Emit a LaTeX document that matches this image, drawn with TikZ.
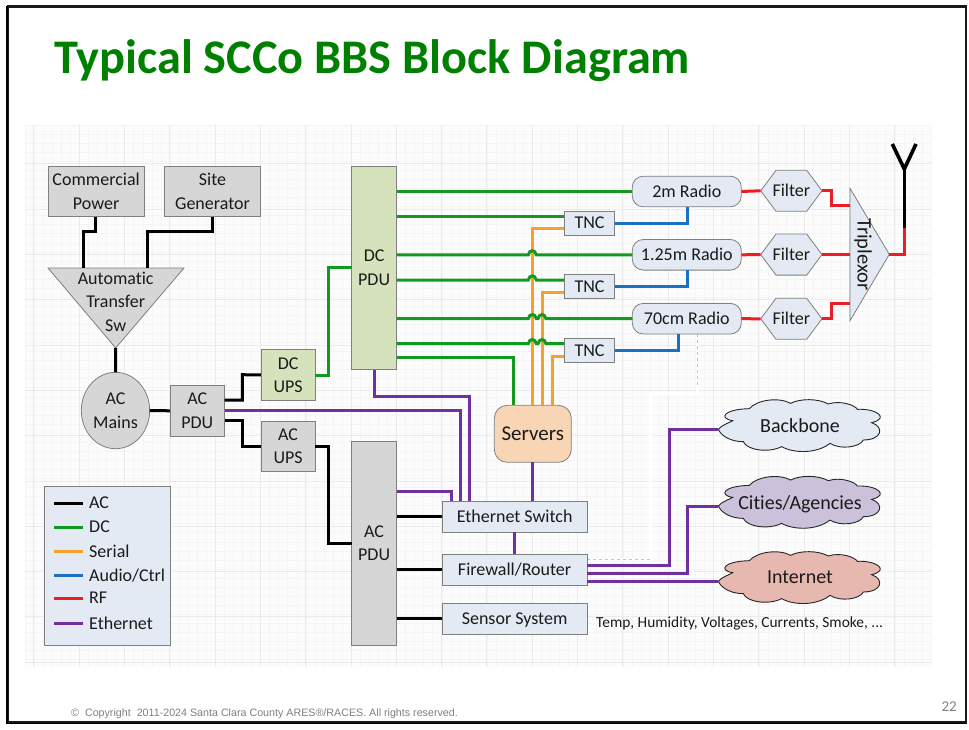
\documentclass[tikz,border=0pt]{standalone}
\usepackage{fontspec}
\setmainfont{Carlito}[Ligatures=NoCommon]
\newfontfamily\footfont{Liberation Sans}
\usetikzlibrary{shapes.geometric,calc}
\definecolor{acc}{HTML}{000000}
\definecolor{dcc}{HTML}{12991F}
\definecolor{serc}{HTML}{F7A12A}
\definecolor{audc}{HTML}{1B6FC4}
\definecolor{rfc}{HTML}{EE1C25}
\definecolor{ethc}{HTML}{7030A0}
\definecolor{titlec}{HTML}{008000}
\definecolor{bordc}{HTML}{7F7F7F}
\definecolor{bluef}{HTML}{E4EAF4}
\definecolor{greyf}{HTML}{D6D6D6}
\definecolor{greenf}{HTML}{D6E2BC}
\definecolor{peachf}{HTML}{F8D5B4}
\definecolor{lilacf}{HTML}{CCC1DA}
\definecolor{pinkf}{HTML}{E6B8B0}
\definecolor{txtc}{HTML}{1A1A1A}
\newcommand{\lbl}[1]{\fontsize{#1}{23.5}\selectfont}
\newcommand{\hopat}[2]{-- (#1-4,#2) .. controls (#1-3,#2-5.5) and (#1+3,#2-5.5) .. (#1+4,#2)}
\newcommand{\cloudpath}[2]{%
  \begin{scope}[shift={(660,390+#1)},x=0.3333pt,y=-0.3333pt]
  \draw[line width=0.9pt,draw=black!85,fill=#2]
   (175,118) .. controls (185,105) and (205,100) .. (218,92)
   .. controls (175,85) and (190,58) .. (268,56)
   .. controls (290,30) and (355,20) .. (392,40)
   .. controls (420,25) and (475,25) .. (505,42)
   .. controls (540,30) and (585,45) .. (592,58)
   .. controls (650,55) and (690,85) .. (635,98)
   .. controls (675,112) and (665,150) .. (610,150)
   .. controls (600,172) and (540,180) .. (510,160)
   .. controls (470,192) and (400,190) .. (365,170)
   .. controls (325,190) and (260,180) .. (250,155)
   .. controls (215,155) and (185,140) .. (175,118) -- cycle;
  \end{scope}}
\newcommand{\filterhex}[2]{%
  \draw[draw=bordc,line width=0.8pt,fill=bluef] (760.7,#2) -- (776,#2-20.5) -- (806.7,#2-20.5) -- (822,#2) -- (806.7,#2+20.5) -- (776,#2+20.5) -- cycle;
  \node[filtertext] (#1) at (791.3,#2) {Filter};}
\tikzset{
  x=1pt,y=-1pt,
  wire/.style={line width=3pt,line join=miter},
  acw/.style={wire,draw=acc},
  dcw/.style={wire,draw=dcc},
  serw/.style={wire,draw=serc},
  audw/.style={wire,draw=audc},
  rfw/.style={wire,draw=rfc},
  ethw/.style={wire,draw=ethc},
  blockbox/.style={draw=bordc,line width=0.8pt,inner sep=0pt,outer sep=0pt,align=center,text=txtc,font=\lbl{18}},
  greybox/.style={blockbox,fill=greyf},
  greenbox/.style={blockbox,fill=greenf},
  bluebox/.style={blockbox,fill=bluef},
  radiobox/.style={bluebox,rounded corners=11pt,minimum width=109pt,minimum height=30.6pt},
  tncbox/.style={bluebox,minimum width=50.4pt,minimum height=24.2pt},
  wide/.style={bluebox,minimum width=145.3pt,minimum height=31pt,text depth=0pt},
  filtertext/.style={inner sep=0pt,outer sep=0pt,minimum width=61.3pt,minimum height=41pt,text=txtc,font=\lbl{18}},
  upsbox/.style={minimum width=54.3pt,minimum height=50.6pt},
  pdubig/.style={minimum width=45.2pt},
  cloudtext/.style={inner sep=0pt,text=txtc,font=\lbl{20},text depth=0pt},
  legtext/.style={anchor=west,inner sep=0pt,text=txtc,font=\lbl{18},text depth=0pt},
  gridminor/.style={draw=black!4,line width=0.5pt},
  gridmajor/.style={draw=black!8,line width=0.6pt},
  artwhite/.style={draw=white,line width=3pt},
  artdash/.style={draw=ethc!35,line width=0.5pt,dashed}
}
\begin{document}
\begin{tikzpicture}
\useasboundingbox (0,0) rectangle (969,730);
\fill[white] (0,0) rectangle (969,730);
% grid
\fill[black!1] (25,125) rectangle (932,667);
\foreach \i in {0,...,100} \draw[gridminor] ({25+9.06*\i},125) -- ({25+9.06*\i},667);
\foreach \i in {0,...,59} \draw[gridminor] (25,{125+9.06*\i}) -- (932,{125+9.06*\i});
\foreach \i in {0,...,19} \draw[gridmajor] ({33.7+45.3*\i},125) -- ({33.7+45.3*\i},667);
\foreach \i in {0,...,11} \draw[gridmajor] (25,{163.7+45.3*\i}) -- (932,{163.7+45.3*\i});
% frame
\draw[black!90,line width=2.6pt] (8,6.5) rectangle (966,722.5);
\draw[black,line width=1.2pt] (7,6.5) -- (7,723.5) -- (966,723.5);
% title and footer
\node[anchor=base west,inner sep=0pt,text=titlec,font={\fontsize{48.3}{52}\selectfont\bfseries}] (title) at (54,74) {Typical SCCo BBS Block Diagram};
\node[anchor=base west,inner sep=0pt,text=black!50,font={\footfont\fontsize{10.7}{12}\selectfont}] (copy) at (71,716) {©\ \ Copyright\ \ 2011-2024 Santa Clara County ARES®/RACES. All rights reserved.};
\node[anchor=base east,inner sep=0pt,text=black!50,font=\lbl{15}] (pageno) at (957,711) {22};
% artefacts of the source image
\draw[artwhite] (587,559) -- (650,559) -- (650,393) -- (697,393) -- (697,335);
\draw[artdash] (587,559) -- (650,559);
\draw[artdash] (697,334) -- (697,385);
% legend
\node[bluebox,minimum width=126pt,minimum height=159pt] (legend) at (107.3,565.8) {};
\foreach \yy/\cc/\lt/\nn in {503/acw/AC/a,527/dcw/DC/b,551/serw/Serial/c,575/audw/Audio\slash Ctrl/d,598/rfw/RF/e,623/ethw/Ethernet/f}{
  \coordinate (lg\nn) at (54,\yy);
  \coordinate (lh\nn) at (83.3,\yy);
  \draw[\cc] (lg\nn) -- (lh\nn);
  \node[legtext] (lt\nn) at (89,\yy) {\lt};
}
% power source blocks
\node[greybox,minimum width=96.3pt,minimum height=50.7pt] (comm) at (96.15,191.35) {Commercial\\Power};
\node[greybox,minimum width=96.4pt,minimum height=50.7pt] (site) at (212.5,191.35) {Site\\Generator};
\coordinate (atsl) at (48,268);
\coordinate (atsr) at (184,268);
\coordinate (atsb) at (115.7,348);
\draw[draw=bordc,line width=0.8pt,fill=greyf] (atsl) -- (atsr) -- (atsb) -- cycle;
\node[inner sep=0pt,align=center,text=txtc,font=\lbl{18}] (ats) at (115.7,301.5) {Automatic\\Transfer\\Sw};
\node[greybox,ellipse,minimum width=68.4pt,minimum height=76.4pt] (mains) at (115.5,410.5) {AC\\Mains};
\node[greybox,minimum width=54.7pt,minimum height=51pt] (acpdu) at (197.3,410.8) {AC\\PDU};
\node[greenbox,upsbox] (dcups) at (288.1,375) {DC\\UPS};
\node[greybox,upsbox] (acups) at (288.1,446.3) {AC\\UPS};
\node[greenbox,pdubig,minimum height=203.7pt] (dcpdu) at (374.1,267.85) {DC\\PDU};
\node[greybox,pdubig,minimum height=204pt] (acbig) at (374.1,543.3) {AC\\PDU};
% radios etc.
\node[radiobox] (r1) at (686.8,191.5) {2m Radio};
\node[radiobox] (r2) at (686.8,254.8) {1.25m Radio};
\node[radiobox] (r3) at (686.8,318.7) {70cm Radio};
\filterhex{f1}{190.8}
\filterhex{f2}{254.6}
\filterhex{f3}{318.8}
\node[tncbox] (t1) at (589.5,223.2) {TNC};
\node[tncbox] (t2) at (589.5,286.3) {TNC};
\node[tncbox] (t3) at (589.5,350.3) {TNC};
\coordinate (tripa) at (850,188.3);
\coordinate (tripb) at (850,320.7);
\coordinate (tripc) at (889.3,254.4);
\draw[draw=bordc,line width=0.8pt,fill=bluef] (tripa) -- (tripc) -- (tripb) -- cycle;
\node[inner sep=0pt,rotate=-90,text=txtc,font=\lbl{20.5}] (trip) at (863,254.4) {Triplexor};
\node[blockbox,fill=peachf,rounded corners=13pt,minimum width=77pt,minimum height=57pt,font=\lbl{21}] (srv) at (532.8,433.8) {Servers};
\node[wide] (sw) at (514.6,516.5) {Ethernet Switch};
\node[wide] (fw) at (514.6,569.6) {Firewall/Router};
\node[wide] (sens) at (514.6,618.8) {Sensor System};
\node[anchor=west,inner sep=0pt,text=txtc,font=\lbl{15.4},text depth=0pt] (temp) at (596,622) {Temp, Humidity, Voltages, Currents, Smoke, ...};
% clouds
\cloudpath{0}{bluef}
\cloudpath{76.7}{lilacf}
\cloudpath{152}{pinkf}
\node[cloudtext] (cb) at (800,425.5) {Backbone};
\node[cloudtext] (cc) at (800,502.5) {Cities/Agencies};
\node[cloudtext] (ci) at (800,577.5) {Internet};
\coordinate (cbw) at (718.3,429.3);
\coordinate (ccw) at (718.3,506);
\coordinate (ciw) at (718.3,581);
% AC wiring
\draw[acw] (95.7,216.7) -- (95.7,231.3) -- (83.7,231.3) -- (83.7,268);
\draw[acw] (site.south) -- (212.5,231.3) -- (147.3,231.3) -- (147.3,268);
\draw[acw] (atsb) -- (mains.north);
\draw[acw] (mains.east) -- (acpdu.west);
\draw[acw] (224.7,400) -- (242.3,400) -- (242.3,374.7) -- (dcups.west);
\draw[acw] (224.7,420.7) -- (242.3,420.7) -- (242.3,446.3) -- (acups.west);
\draw[acw] (acups.east) -- (328.3,446.3) -- (328.3,543.3) -- (acbig.west);
\draw[acw] (acbig.east |- sw.west) -- (sw.west);
\draw[acw] (acbig.east |- fw.west) -- (fw.west);
\draw[acw] (acbig.east |- sens.west) -- (sens.west);
% Serial
\draw[serw] (t1.west |- 0,228.7) -- (532.3,228.7) -- (532.3,405.3);
\draw[serw] (t2.west |- 0,292) -- (542,292) -- (542,405.3);
\draw[serw] (t3.west |- 0,356) -- (552,356) -- (552,405.3);
% DC wiring
\draw[dcw] (dcups.east) -- (328.3,375) -- (328.3,267.3) -- (dcpdu.west |- 0,267.3);
\draw[dcw] (dcpdu.east |- r1.west) -- (r1.west);
\draw[dcw] (dcpdu.east |- 0,216.7) -- (t1.west |- 0,216.7);
\draw[dcw] (dcpdu.east |- r2.west) \hopat{532.3}{254.8} -- (r2.west);
\draw[dcw] (dcpdu.east |- 0,280) \hopat{532.3}{280} -- (t2.west |- 0,280);
\draw[dcw] (dcpdu.east |- r3.west) \hopat{532.3}{318.7} \hopat{542}{318.7} -- (r3.west);
\draw[dcw] (dcpdu.east |- 0,343.7) \hopat{532.3}{343.7} \hopat{542}{343.7} -- (t3.west |- 0,343.7);
\draw[dcw] (dcpdu.east |- 0,357.3) -- (513.3,357.3) -- (513.3,405.3);
% Audio
\draw[audw] (t1.east) -- (687.3,223.2) -- (687.3,206.8);
\draw[audw] (t2.east) -- (687.3,286.3) -- (687.3,270.1);
\draw[audw] (t3.east) -- (678,350.3) -- (678,334);
% RF
\draw[rfw] (r1.east) -- (f1.west);
\draw[rfw] (r2.east) -- (f2.west);
\draw[rfw] (r3.east) -- (f3.west);
\draw[rfw] (f1.east) -- (831.3,190.8) -- (831.3,205.3) -- (850,205.3);
\draw[rfw] (f2.east) -- (850,254.6);
\draw[rfw] (f3.east) -- (831.3,318.8) -- (831.3,303.3) -- (850,303.3);
\coordinate (antb) at (904.3,228.3);
\coordinate (antm) at (904.3,169);
\coordinate (antl) at (892.3,144);
\coordinate (antr) at (916,144);
\draw[rfw] (tripc) -- (904.3,254.4) -- (antb);
\draw[acw,line width=3.6pt] (antb) -- (antm);
\draw[acw,line width=3.6pt] (antl) -- (antm) -- (antr);
% Ethernet
\draw[ethw] (acpdu.east) -- (460,410.8) -- (460,501);
\draw[ethw] (374,369.7) -- (374,396) -- (469,396) -- (469,501);
\draw[ethw] (acbig.east |- 0,491.7) -- (451,491.7) -- (451,501);
\draw[ethw] (srv.south) -- (srv.south |- sw.north);
\draw[ethw] (sw.south) -- (fw.north);
\draw[ethw] (fw.east |- 0,565.3) -- (669,565.3) -- (669,429.3) -- (cbw);
\draw[ethw] (fw.east |- 0,573) -- (687.3,573) -- (687.3,506) -- (ccw);
\draw[ethw] (fw.east |- 0,581) -- (ciw);
\end{tikzpicture}
\end{document}
